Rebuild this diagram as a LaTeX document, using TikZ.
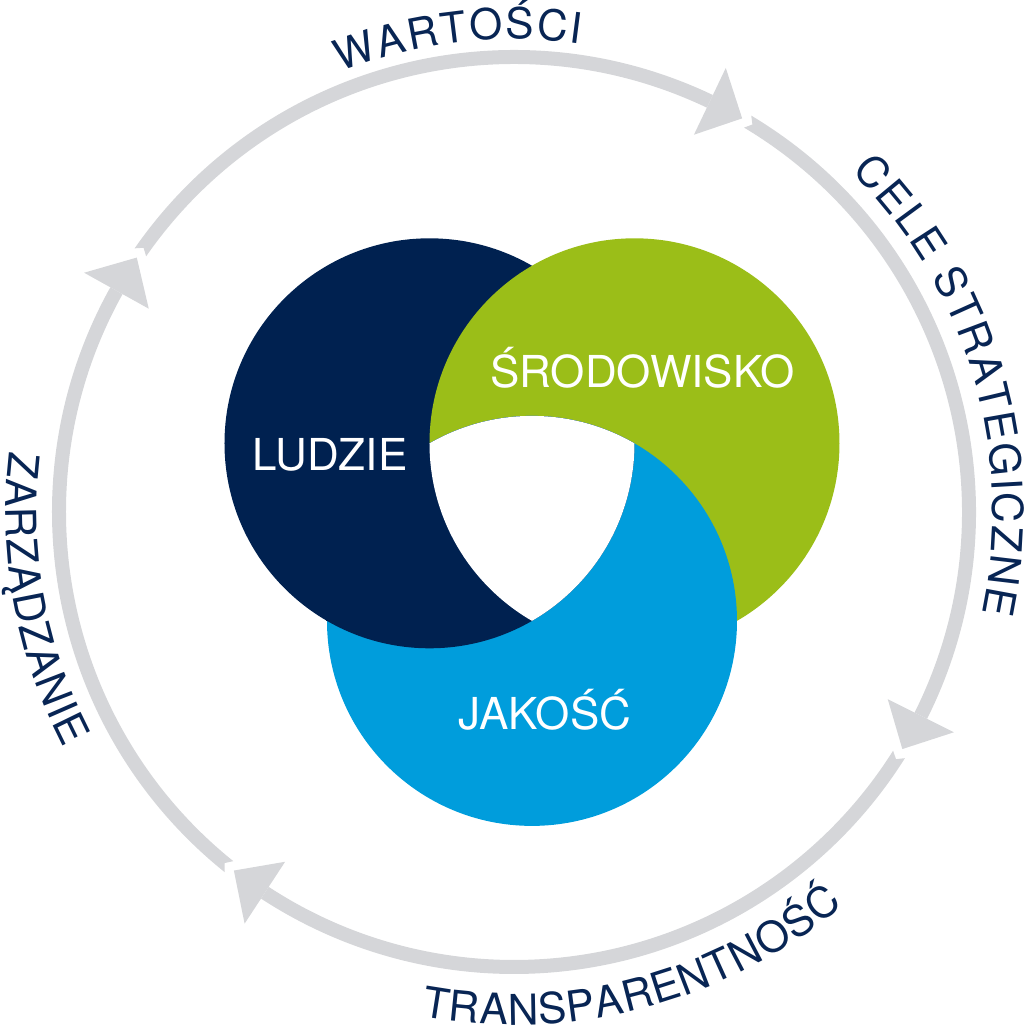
\documentclass[tikz,border=0pt]{standalone}
\usepackage{fontspec}
\setmainfont{TeX Gyre Heros}
\definecolor{navyc}{RGB}{0,33,80}
\definecolor{greenc}{RGB}{155,190,24}
\definecolor{bluec}{RGB}{0,157,220}
\definecolor{ringgray}{RGB}{213,214,217}
\definecolor{ringtext}{RGB}{8,37,84}
\newcommand\ringfont{\fontsize{42.5}{46}\selectfont}
\newcommand\circfont{\fontsize{44}{50}\selectfont}
\newlength\ctw
% measure a letter (outside the picture's null font)
\newcommand\measurech[2]{%
  \pgfinterruptpicture\settowidth\ctw{#1#2}\global\ctw=\ctw\endpgfinterruptpicture}
% #1 radius, #2 centre angle, #3 direction (1 clockwise, -1 counter-clockwise),
% #4 tracking, #5 font, #6 letters, #7 name prefix
\newcommand\arcword[7]{%
  \gdef\ctot{0}%
  \foreach \ch in {#6} {%
    \measurech{#5}{\ch}%
    \pgfmathsetmacro\tmpv{\ctot+\ctw+#4}%
    \xdef\ctot{\tmpv}%
  }%
  \pgfmathsetmacro\tmpv{\ctot-#4}%
  \xdef\ctot{\tmpv}%
  \gdef\cacc{0}%
  \foreach \ch [count=\ci] in {#6} {%
    \measurech{#5}{\ch}%
    \pgfmathsetmacro\cang{#2+(#3)*(\ctot/2-\cacc-\ctw/2)/#1*180/pi}%
    \pgfmathsetmacro\crot{\cang-90*(#3)}%
    \node[ringlabel, font=#5, rotate=\crot] (#7\ci) at (\cang:#1pt) {\ch};%
    \pgfmathsetmacro\tmpv{\cacc+\ctw+#4}%
    \xdef\cacc{\tmpv}%
  }%
}
% ring segment: #1 start angle (with tail notch), #2 end angle
\newcommand\ringarc[2]{%
  \pgfmathsetmacro\notchang{#1-0.7}%
  \fill[ringgray] (#1:462pt) arc[start angle=#1, end angle=#2, radius=462pt]
     -- (#2:448pt) arc[start angle=#2, end angle=#1, radius=448pt]
     -- (\notchang:455pt) -- cycle;%
}
% arrow head: #1 base angle, #2 tip angle
\newcommand\ringhead[2]{%
  \fill[ringgray] (#1:492pt) -- (#2:455pt) -- (#1:418pt) -- cycle;%
}
\tikzset{
  ringlabel/.style={anchor=base, inner sep=0pt, text=ringtext},
  circlabel/.style={anchor=base, inner sep=0pt, text=white, font=\circfont},
}
\begin{document}
\begin{tikzpicture}[x=1pt,y=1pt]
\useasboundingbox (-514,-517) rectangle (510,512);
% circle centres
\coordinate (N) at (-84.5,68.7);
\coordinate (G) at (120.5,68.7);
\coordinate (B) at (18,-108.9);
% three circles
\fill[navyc] (N) circle (205pt);
\fill[greenc] (G) circle (205pt);
\fill[bluec] (B) circle (205pt);
\begin{scope}
  \clip (B) circle (205pt);
  \fill[navyc] (N) circle (205pt);
\end{scope}
\path (B) ++(120:205pt) coordinate (seamstart);
\draw[navyc, line width=1.6pt] (seamstart) arc[start angle=120, end angle=180, radius=205pt];
\begin{scope}
  \clip (N) circle (205pt);
  \clip (G) circle (205pt);
  \fill[white] (B) circle (205pt);
\end{scope}
% circle labels
\node[circlabel] (ludzie) at (-184,42) {LUDZIE};
\node[circlabel] (srodowisko) at (128.5,125) {ŚRODOWISKO};
\node[circlabel] (jakosc) at (31,-217) {JAKOŚĆ};
% outer ring
\ringarc{145.2}{64.5}
\ringhead{64.5}{59.9}
\ringarc{59.1}{-26.6}
\ringhead{-26.6}{-31.4}
\ringarc{-32.2}{-123.2}
\ringhead{-123.2}{-128.0}
\ringarc{-128.8}{-209.1}
\ringhead{150.9}{146.0}
% ring labels
\arcword{473}{96.7}{1}{2.2}{\ringfont}{W,A,R,T,O,Ś,C,I}{war}
\arcword{479}{16.5}{1}{1.8}{\ringfont}{C,E,L,E,~,S,T,R,A,T,E,G,I,C,Z,N,E}{cel}
\arcword{513}{284.75}{-1}{0.8}{\ringfont}{T,R,A,N,S,P,A,R,E,N,T,N,O,Ś,Ć}{tra}
\arcword{508}{190.4}{-1}{1.0}{\ringfont}{Z,A,R,Z,Ą,D,Z,A,N,I,E}{zar}
\end{tikzpicture}
\end{document}
